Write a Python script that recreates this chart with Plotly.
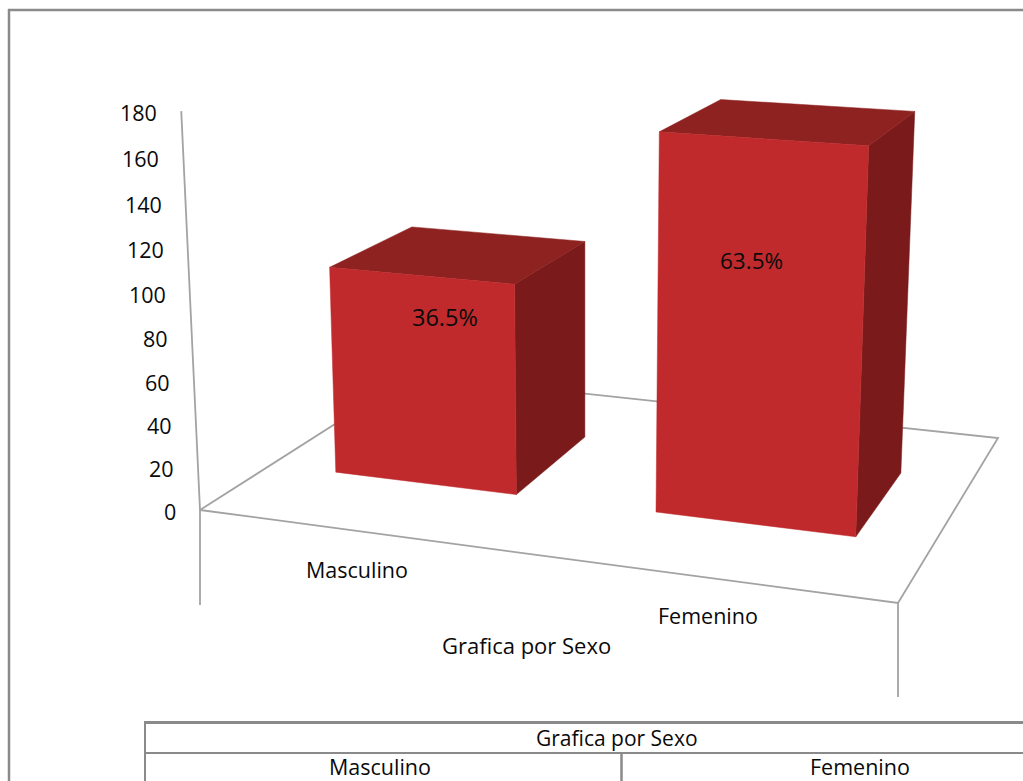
import plotly.graph_objects as go

# Chart data
categories = ["Masculino", "Femenino"]
counts = [99, 172]
axis_ticks = [0, 20, 40, 60, 80, 100, 120, 140, 160, 180]
axis_title = "Grafica por Sexo"
total = sum(counts)
share_labels = [f"{c / total * 100:.1f}%" for c in counts]

# Colours
FRONT = "#C02A2D"
TOP = "#8E2220"
SIDE = "#7B1A1A"
AXIS = "#A3A3A3"
RULE = "#8A8A8A"
INK = "#0A0A0A"
FONT = "Open Sans"

# Perspective camera: floor corners on the page, plus the vanishing point of verticals
A, B, C, D = (200, 510), (898, 603), (998, 438), (412, 375)
VANISH = (585, 8700)
Z_PER_UNIT = -0.000258

dx1, dy1 = B[0] - C[0], B[1] - C[1]
dx2, dy2 = D[0] - C[0], D[1] - C[1]
sx, sy = A[0] - B[0] + C[0] - D[0], A[1] - B[1] + C[1] - D[1]
den = dx1 * dy2 - dy1 * dx2
G = (sx * dy2 - sy * dx2) / den
H = (dx1 * sy - dy1 * sx) / den


def project(x, d, z):
    """World position (x along the categories, d into the depth, z value) to page pixels."""
    w = 1 + G * x + H * d + Z_PER_UNIT * z
    u = (B[0] * (1 + G) - A[0]) * x + (D[0] * (1 + H) - A[0]) * d + A[0] + VANISH[0] * Z_PER_UNIT * z
    v = (B[1] * (1 + G) - A[1]) * x + (D[1] * (1 + H) - A[1]) * d + A[1] + VANISH[1] * Z_PER_UNIT * z
    return u / w, v / w


def face(points, color):
    xy = [project(*p) for p in points]
    xs = [p[0] for p in xy] + [xy[0][0]]
    ys = [p[1] for p in xy] + [xy[0][1]]
    return go.Scatter(x=xs, y=ys, mode="lines", fill="toself", fillcolor=color,
                      line=dict(color=color, width=0.5), hoverinfo="skip", showlegend=False)


def polyline(points, color=AXIS, width=1.8):
    xy = [project(*p) for p in points]
    return go.Scatter(x=[p[0] for p in xy], y=[p[1] for p in xy], mode="lines",
                      line=dict(color=color, width=width), hoverinfo="skip", showlegend=False)


fig = go.Figure()

# Floor outline and value axis
fig.add_trace(polyline([(0, 0, 0), (1, 0, 0), (1, 1, 0), (0, 1, 0), (0, 0, 0)]))
fig.add_trace(polyline([(0, 0, 0), (0, 0, max(axis_ticks))]))

# Columns
BAR_WIDTH = 0.288
DEPTH = (0.298, 0.696)
for i, value in enumerate(counts):
    center = (i + 0.5) / len(counts)
    x0, x1 = center - BAR_WIDTH / 2, center + BAR_WIDTH / 2
    d0, d1 = DEPTH
    fig.add_trace(face([(x1, d0, 0), (x1, d1, 0), (x1, d1, value), (x1, d0, value)], SIDE))
    fig.add_trace(face([(x0, d0, value), (x1, d0, value), (x1, d1, value), (x0, d1, value)], TOP))
    fig.add_trace(face([(x0, d0, 0), (x1, d0, 0), (x1, d0, value), (x0, d0, value)], FRONT))

annotations = []


def label(x, y, text, xanchor="center", xshift=0, yshift=0, size=21.5):
    annotations.append(dict(x=x, y=y, xref="x", yref="y", text=text, showarrow=False,
                            xanchor=xanchor, yanchor="middle", xshift=xshift, yshift=yshift,
                            font=dict(family=FONT, size=size, color=INK)))


for tick in axis_ticks:
    px, py = project(0, 0, tick)
    label(px, py, str(tick), xanchor="right", xshift=-22, yshift=-1)

CATEGORY_DROP = 38
CATEGORY_SHIFTS = [-4, -1]
for i, name in enumerate(categories):
    px, py = project((i + 0.5) / len(categories), 0, 0)
    label(px, py, name, xshift=CATEGORY_SHIFTS[i], yshift=-CATEGORY_DROP)

SHARE_OFFSETS = [(-16, 63), (-39, 139)]
SHARE_SIZES = [23.5, 22.5]
for i, text in enumerate(share_labels):
    px, py = project((i + 0.5) / len(categories), 0.5, counts[i])
    label(px + SHARE_OFFSETS[i][0], py + SHARE_OFFSETS[i][1], text, size=SHARE_SIZES[i])

label(526, 645, axis_title, size=22)
label(617, 738, axis_title, size=21)
label(380, 766, categories[0])
label(860, 766, categories[1])


def seg(x0, y0, x1, y1, color, width):
    return dict(type="line", xref="x", yref="y", x0=x0, y0=y0, x1=x1, y1=y1,
                line=dict(color=color, width=width), layer="below")


shapes = [
    # Page frame
    seg(8, 10, 1023, 10, RULE, 2.5),
    seg(9, 9, 9, 781, RULE, 2.5),
    # Drop lines under the two front floor corners
    seg(A[0], A[1], A[0], 605, AXIS, 1.8),
    seg(B[0], B[1], B[0], 697, AXIS, 1.8),
    # Table under the chart
    seg(144, 722.5, 1023, 722.5, RULE, 3),
    seg(144, 753, 1023, 753, RULE, 2),
    seg(145, 721, 145, 781, RULE, 2),
    seg(621.5, 753, 621.5, 781, RULE, 2.5),
]

fig.update_layout(
    width=1023, height=781, margin=dict(l=0, r=0, t=0, b=0),
    paper_bgcolor="white", plot_bgcolor="white", showlegend=False,
    xaxis=dict(range=[0, 1023], visible=False, fixedrange=True),
    yaxis=dict(range=[781, 0], visible=False, fixedrange=True),
    annotations=annotations, shapes=shapes,
)
fig.write_html("out.html", config={"displayModeBar": False})
